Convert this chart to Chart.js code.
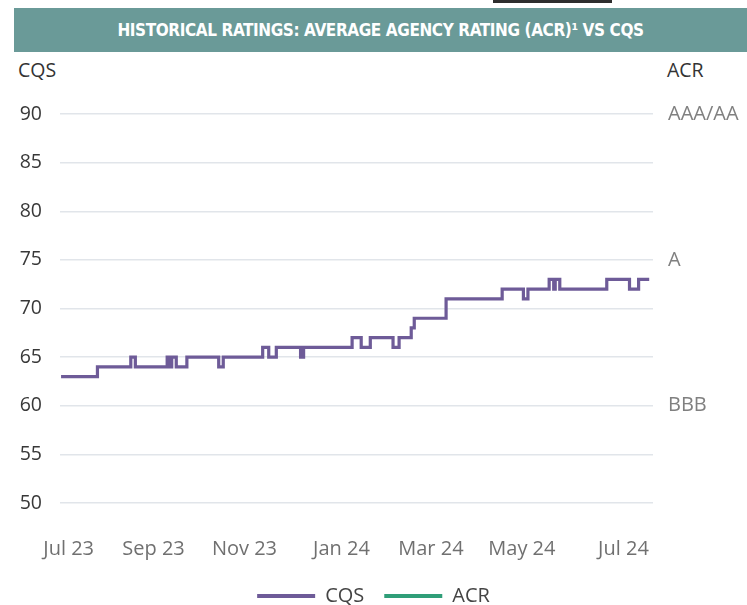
<!DOCTYPE html>
<html>
<head>
<meta charset="utf-8">
<script src="https://cdn.jsdelivr.net/npm/chart.js@4.4.1/dist/chart.umd.min.js"></script>
<style>
  html, body { margin: 0; padding: 0; background: #fff; overflow: hidden; }
  body { width: 747px; height: 605px; position: relative; font-family: "Open Sans", sans-serif; }
  .topbar { position: absolute; left: 493px; top: 0; width: 119px; height: 3px; background: #2e2e2e; }
  .banner {
    position: absolute; left: 14px; top: 8px; width: 733px; height: 44px;
    background: #6a9a98; color: #fff; text-align: center; line-height: 44px;
    font-family: "Liberation Sans Narrow", "DejaVu Sans Condensed", sans-serif;
    font-weight: bold; font-size: 17px; letter-spacing: -0.4px;
  }
  .axis-title { position: absolute; top: 56px; font-size: 19.5px; color: #333; }
  #wrap { position: absolute; left: 0; top: 55px; width: 747px; height: 561px; }
</style>
</head>
<body>
<div class="topbar"></div>
<div class="banner">HISTORICAL RATINGS: AVERAGE AGENCY RATING (ACR)¹ VS CQS</div>
<div class="axis-title" style="left:18px">CQS</div>
<div class="axis-title" style="left:667px">ACR</div>
<div id="wrap"><canvas id="chart"></canvas></div>
<script>
// days counted from the first observation (late Jun 2023)
const cqsChangeDays = [0, 24, 46, 49, 70, 72, 73, 76, 83, 104, 107, 133, 137, 142, 158, 160, 192, 198, 204, 219,
  223, 231, 233, 254, 291, 305, 308, 322, 325, 326, 329, 360, 375, 381, 388];
const cqsValues = [63, 64, 65, 64, 65, 64, 65, 64, 65, 64, 65, 66, 65, 66, 65, 66, 67, 66, 67, 66,
  67, 68, 69, 71, 72, 71, 72, 73, 72, 73, 72, 73, 72, 73, 73];
const acrValues = [];

const xTickDays = [5, 61, 121, 185, 244, 304, 371];
const xTickLabels = ['Jul 23', 'Sep 23', 'Nov 23', 'Jan 24', 'Mar 24', 'May 24', 'Jul 24'];
const cqsTicks = [50, 55, 60, 65, 70, 75, 80, 85, 90];
const acrTickValues = [60, 75, 90];
const acrTickLabels = ['BBB', 'A', 'AAA/AA'];

const purple = '#6e5b98';
const green = '#2f9e78';

const cqsPoints = cqsChangeDays.map((d, i) => ({ x: d, y: cqsValues[i] }));

new Chart(document.getElementById('chart'), {
  type: 'line',
  data: {
    datasets: [
      {
        label: 'CQS', data: cqsPoints, yAxisID: 'y',
        borderColor: purple, backgroundColor: purple, borderWidth: 3.2,
        stepped: 'before', pointRadius: 0, fill: false
      },
      {
        label: 'ACR', data: acrValues, yAxisID: 'y2',
        borderColor: green, backgroundColor: green, borderWidth: 3,
        pointRadius: 0, fill: false
      }
    ]
  },
  options: {
    responsive: true,
    maintainAspectRatio: false,
    animation: false,
    layout: { padding: { top: 59, bottom: 0, left: 0, right: 0 } },
    plugins: {
      tooltip: { enabled: false },
      legend: {
        position: 'bottom',
        labels: {
          boxWidth: 58, boxHeight: 4, padding: 20,
          color: '#444', font: { family: 'Open Sans', size: 20 },
          generateLabels(chart) {
            const items = Chart.defaults.plugins.legend.labels.generateLabels(chart);
            items.forEach(it => { it.lineWidth = 0; });
            return items;
          }
        }
      }
    },
    scales: {
      x: {
        type: 'linear', min: -0.7, max: 390.5,
        grid: { display: false }, border: { display: false },
        afterBuildTicks(scale) { scale.ticks = xTickDays.map(v => ({ value: v })); },
        afterFit(scale) { scale.height = 63; },
        ticks: {
          padding: 26, color: '#707070', font: { family: 'Open Sans', size: 20 },
          maxRotation: 0, autoSkip: false,
          callback(v, i) { return xTickLabels[i]; }
        }
      },
      y: {
        position: 'left', min: 50, max: 90,
        afterBuildTicks(scale) { scale.ticks = cqsTicks.map(v => ({ value: v })); },
        afterFit(scale) { scale.width = 60; },
        grid: { color: '#e1e5ea', lineWidth: 1.5, drawTicks: false },
        border: { display: false },
        ticks: { padding: 18, color: '#383838', font: { family: 'Open Sans', size: 19.5 } }
      },
      y2: {
        position: 'right', min: 50, max: 90,
        afterBuildTicks(scale) { scale.ticks = acrTickValues.map(v => ({ value: v })); },
        afterFit(scale) { scale.width = 94; },
        grid: { display: false, drawTicks: false },
        border: { display: false },
        ticks: {
          padding: 15, color: '#808080', font: { family: 'Open Sans', size: 20 },
          callback(v, i) { return acrTickLabels[i]; }
        }
      }
    }
  }
});
</script>
</body>
</html>
